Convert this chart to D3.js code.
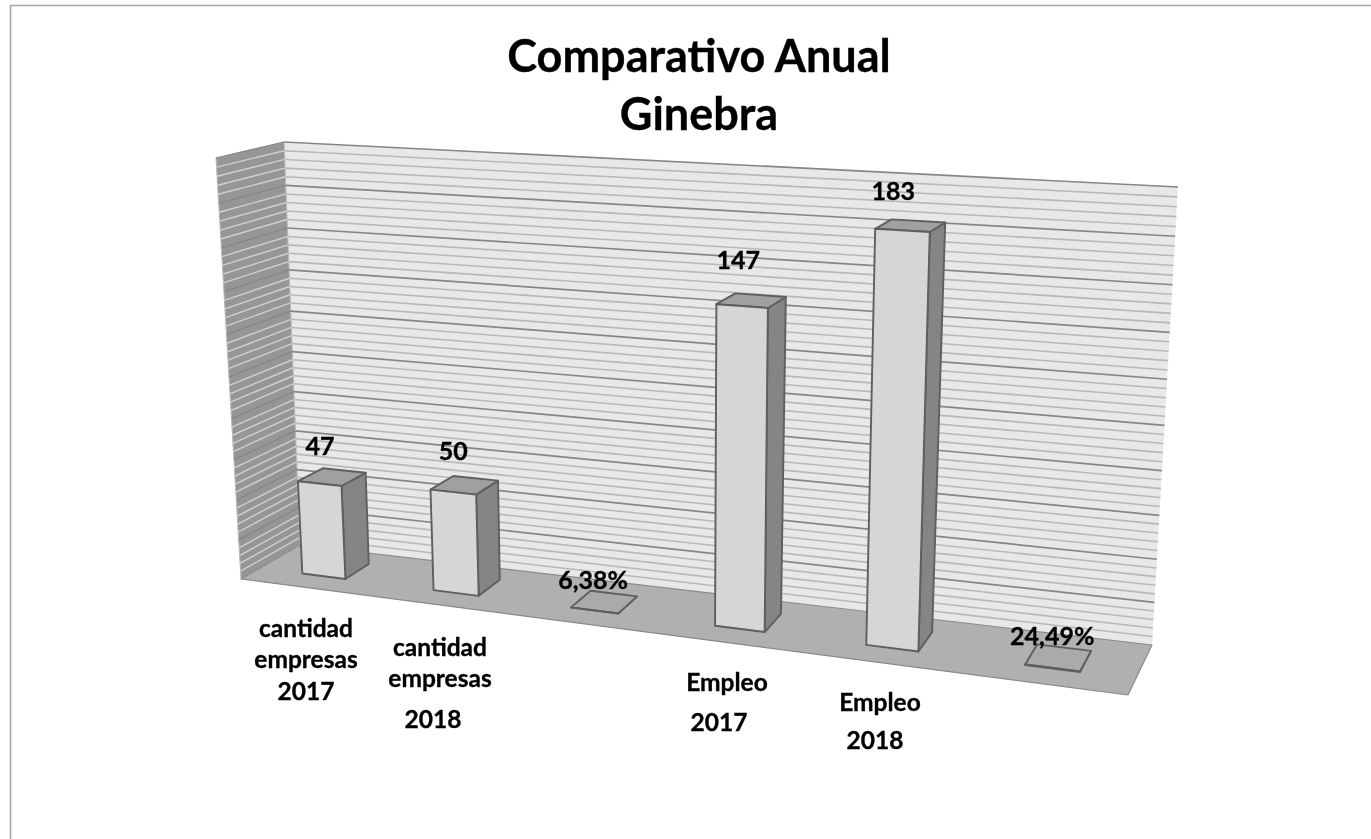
<!DOCTYPE html>
<html><head><meta charset="utf-8">
<script src="https://cdn.jsdelivr.net/npm/d3@7"></script>
<style>html,body{margin:0;padding:0;background:#fff;overflow:hidden}svg{display:block}text{font-family:Lato,Carlito,sans-serif;font-weight:700;fill:#000;stroke:#000;stroke-width:.35px}</style>
</head><body><svg id="c" width="1371" height="839"></svg>
<script>
const titleLines = ["Comparativo Anual", "Ginebra"];
const categories = ["cantidad empresas 2017", "cantidad empresas 2018", "variación empresas", "Empleo 2017", "Empleo 2018", "variación empleo"];
const values = [47, 50, 0.0638, 147, 183, 0.2449];
const valueLabels = ["47", "50", "6,38%", "147", "183", "24,49%"];
const categoryLines = [["cantidad","empresas","2017"],["cantidad","empresas","2018"],[],["Empleo","2017"],["Empleo","2018"],[]];
const axisMax = 200, majorStep = 20, minorStep = 4;

// Box corners on screen: u along categories, v up, w from back wall to front
const corners = {
  floorBack:[[300,545],[1152,645]], floorFront:[[241,579],[1128,695]],
  topBack:[[284,142],[1178,187]],   topFront:[[216,158],[1151,209]]
};
const lerp=(a,b,t)=>[a[0]+(b[0]-a[0])*t,a[1]+(b[1]-a[1])*t];
const persp=(t,k)=>t/(k-(k-1)*t);
const xScale=d3.scaleBand().domain(categories).range([0,1]).paddingInner(2/3).paddingOuter(1/3);
const yScale=d3.scaleLinear().domain([0,axisMax]).range([0,1]);
const depthScale=d3.scaleLinear().domain([0,1]).range([0.26,0.68]);
function P(x,val,w){
  const u=persp(x,1.155), v=persp(yScale(val),1.085);
  const fb=lerp(corners.floorBack[0],corners.floorBack[1],u), ff=lerp(corners.floorFront[0],corners.floorFront[1],u);
  const tb=lerp(corners.topBack[0],corners.topBack[1],u), tf=lerp(corners.topFront[0],corners.topFront[1],u);
  return lerp(lerp(fb,ff,w),lerp(tb,tf,w),v);
}
const svg=d3.select("#c");
const path=d3.line();
const poly=(g,pts,fill,stroke,sw)=>g.append("path").attr("d",path(pts)+"Z").attr("fill",fill).attr("stroke",stroke||"none").attr("stroke-width",sw||0).attr("stroke-linejoin","round");

const defs=svg.append("defs");
defs.append("filter").attr("id","soft").attr("x","-5%").attr("y","-5%").attr("width","110%").attr("height","110%")
  .append("feGaussianBlur").attr("stdDeviation",0.5);

// outer frame (only top and left edges are visible)
svg.append("path").attr("d","M10.5,839V5.5H1371").attr("fill","none").attr("stroke","#a6a6a6").attr("stroke-width",1.6);

const plot=svg.append("g").attr("filter","url(#soft)");
// walls and floor
poly(plot,[P(0,0,0),P(1,0,0),P(1,axisMax,0),P(0,axisMax,0)],"#e8e8e8");
poly(plot,[P(0,0,0),P(0,0,1),P(0,axisMax,1),P(0,axisMax,0)],"#969696","#b8b8b8",1);
const ticks=d3.range(0,axisMax+1,minorStep);
ticks.forEach(t=>{
  const major=t%majorStep===0;
  if(t===0) return;
  plot.append("path").attr("d",path([P(0,t,0),P(1,t,0)])).attr("fill","none")
    .attr("stroke",major?"#868686":"#b8b8b8").attr("stroke-width",major?1.7:1.6);
  plot.append("path").attr("d",path([P(0,t,1),P(0,t,0)])).attr("fill","none")
    .attr("stroke",major?"#868686":"#d0d0d0").attr("stroke-width",major?1.2:1.4);
});
poly(plot,[P(0,0,0),P(1,0,0),P(1,0,1),P(0,0,1)],"#b0b0b0","#8a8a8a",1.2);

// bars
const bw=xScale.bandwidth();
categories.forEach((c,i)=>{
  const x0=xScale(c),x1=x0+bw,v=values[i];
  const g=plot.append("g");
  const a=0,d0=depthScale(1),d1=depthScale(0);
  const line="#5e5e5e", s=1.9;
  poly(g,[P(x1,a,d0),P(x1,a,d1),P(x1,v,d1),P(x1,v,d0)],"#858585",line,s);
  poly(g,[P(x0,v,d0),P(x1,v,d0),P(x1,v,d1),P(x0,v,d1)],v<1?"#aaaaaa":"#a0a0a0",line,s);
  poly(g,[P(x0,a,d0),P(x1,a,d0),P(x1,v,d0),P(x0,v,d0)],v<1?"#aaaaaa":"#d6d6d6",line,s);
});

const texts=svg.append("g").attr("filter","url(#soft)");
// data labels, anchored at each bar's top
const labelOffset=[[-12,-22],[-11,-25],[-11,-13],[-13,-32],[-17,-26],[-6,-13]];
categories.forEach((c,i)=>{
  const p=P(xScale(c)+bw/2,values[i],0.47);
  texts.append("text").attr("x",p[0]+labelOffset[i][0]).attr("y",p[1]+labelOffset[i][1])
    .attr("text-anchor","middle").attr("font-size",25).text(valueLabels[i]);
});
// category labels
const catLayout=[[306,[637,668,700]],[440,[656,687,728]],null,[727,[691,731]],[880,[711,749]],null];
const catShift=[[0,0,0],[0,0,-7],null,[0,-8],[0,-5],null];
categoryLines.forEach((ls,i)=>{
  if(!ls.length) return;
  ls.forEach((t,j)=>{
    texts.append("text").attr("x",catLayout[i][0]+catShift[i][j]).attr("y",catLayout[i][1][j])
      .attr("text-anchor","middle").attr("font-size",24.5).text(t);
  });
});
// title
titleLines.forEach((t,i)=>{
  texts.append("text").attr("x",699).attr("y",[72,130][i]).attr("text-anchor","middle").attr("font-size",45).text(t);
});
</script></body></html>
